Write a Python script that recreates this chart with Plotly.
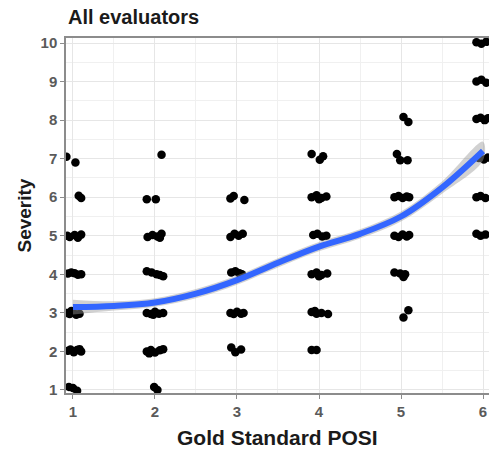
import plotly.graph_objects as go

pts_x = [
    0.92, 1.03, 1.07, 1.10,
    0.93, 0.96, 1.02, 1.06, 1.10,
    0.94, 0.98, 1.02, 1.06, 1.10,
    0.93, 0.96, 1.00, 1.04, 1.08, 0.98,
    0.94, 0.97, 1.01, 1.05, 1.10, 1.08,
    0.95, 1.00, 1.05,
    2.08, 1.90, 2.01,
    1.91, 1.97, 2.03, 2.08, 2.06,
    1.90, 1.96, 2.02, 2.10, 2.06,
    1.90, 1.95, 2.00, 2.05, 2.10, 1.98,
    1.90, 1.95, 2.00, 2.06, 2.10, 1.93,
    1.99, 2.03,
    2.92, 2.96, 3.09,
    2.92, 2.97, 3.02, 3.07,
    2.93, 2.98, 3.03, 3.06,
    2.92, 2.96, 3.00, 3.05, 3.08,
    2.93, 2.98, 3.05,
    3.91, 4.01, 4.05,
    3.91, 3.97, 4.03, 4.09, 4.00,
    3.93, 3.98, 4.04, 4.09,
    3.91, 3.97, 4.03, 4.10, 4.00,
    3.91, 3.97, 4.03, 4.11, 3.95,
    3.91, 3.97,
    5.03, 5.09,
    4.95, 4.99, 5.08,
    4.92, 4.97, 5.02, 5.07, 5.10,
    4.92, 4.97, 5.02, 5.07, 5.10,
    4.92, 4.99, 5.05, 5.03,
    5.03, 5.09,
    5.92, 5.98, 6.04,
    5.92, 5.98, 6.04,
    5.92, 5.97, 6.02, 6.06,
    5.95, 6.01, 6.06,
    5.92, 5.97, 6.03,
    5.92, 5.97, 6.03,
]
pts_y = [
    7.05, 6.90, 6.04, 5.98,
    5.00, 4.97, 5.02, 4.95, 5.03,
    4.02, 4.05, 4.03, 3.99, 4.00,
    3.00, 2.97, 3.02, 2.95, 2.98, 3.05,
    2.02, 2.05, 1.98, 2.04, 2.00, 2.06,
    1.08, 1.05, 0.98,
    7.10, 5.95, 5.95,
    4.97, 5.02, 4.98, 5.05, 4.95,
    4.08, 4.05, 4.00, 3.95, 3.98,
    3.00, 2.97, 3.03, 2.98, 3.00, 2.95,
    2.00, 2.04, 1.97, 2.03, 2.06, 1.95,
    1.08, 1.00,
    5.97, 6.03, 5.93,
    4.97, 5.05, 5.00, 5.05,
    4.05, 4.08, 4.03, 4.00,
    3.00, 2.97, 3.03, 2.98, 3.00,
    2.10, 1.98, 2.05,
    7.12, 6.97, 7.06,
    6.00, 6.05, 5.98, 6.02, 5.95,
    5.02, 5.05, 4.98, 5.00,
    4.00, 4.05, 3.98, 4.02, 3.95,
    3.02, 2.98, 3.00, 2.97, 3.05,
    2.04, 2.04,
    8.08, 7.95,
    7.12, 6.96, 6.96,
    6.00, 6.03, 5.98, 6.02, 6.00,
    5.00, 4.97, 5.03, 4.98, 5.02,
    4.05, 4.02, 4.00, 3.93,
    2.88, 3.07,
    10.02, 9.98, 10.03,
    9.00, 9.05, 8.97,
    8.03, 8.06, 8.00, 8.05,
    7.02, 6.98, 7.03,
    6.00, 6.03, 5.98,
    5.05, 5.00, 5.03,
]

# Smoothed trend and its confidence band
fit_x = [1.0, 1.5, 2.0, 2.5, 3.0, 3.5, 4.0, 4.5, 5.0, 5.5, 6.0]
fit_y = [3.15, 3.18, 3.27, 3.50, 3.85, 4.30, 4.72, 5.05, 5.50, 6.25, 7.20]
fit_lo = [2.96, 3.06, 3.16, 3.38, 3.73, 4.18, 4.60, 4.93, 5.37, 6.09, 6.96]
fit_hi = [3.34, 3.30, 3.38, 3.62, 3.97, 4.42, 4.84, 5.17, 5.63, 6.41, 7.44]

x_ticks = [1, 2, 3, 4, 5, 6]
y_ticks = [1, 2, 3, 4, 5, 6, 7, 8, 9, 10]

fig = go.Figure()
fig.add_trace(go.Scatter(
    x=pts_x, y=pts_y, mode="markers",
    marker=dict(color="black", size=8.5, line=dict(width=0)),
    hoverinfo="skip", showlegend=False))
fig.add_trace(go.Scatter(
    x=fit_x + fit_x[::-1], y=fit_hi + fit_lo[::-1],
    fill="toself", fillcolor="rgba(153,153,153,0.45)",
    line=dict(width=0), mode="lines", line_shape="spline",
    hoverinfo="skip", showlegend=False))
fig.add_trace(go.Scatter(
    x=fit_x, y=fit_y, mode="lines", line_shape="spline",
    line=dict(color="#3366FF", width=6),
    hoverinfo="skip", showlegend=False))

axis_common = dict(
    showgrid=True, gridcolor="#e6e6e6", gridwidth=1.2,
    showline=True, linecolor="#8c8c8c", linewidth=1.5,
    ticks="outside", ticklen=4, tickcolor="#8c8c8c", tickwidth=1.2,
    tickfont=dict(family="Liberation Sans, Arial", size=15, color="#5a5a5a", weight="bold"),
    zeroline=False,
    minor=dict(showgrid=True, gridcolor="#f0f0f0", gridwidth=0.8, dtick=0.5),
)

fig.update_layout(
    width=489, height=456,
    margin=dict(l=66, r=0, t=38, b=63),
    paper_bgcolor="white", plot_bgcolor="white",
    font=dict(family="Liberation Sans, Arial", color="black"),
    xaxis=dict(range=[0.915, 6.073], tickvals=x_ticks, mirror=True, **axis_common),
    yaxis=dict(range=[0.922, 10.13], tickvals=y_ticks, **axis_common),
    annotations=[
        dict(text="<b>All evaluators</b>", x=0, y=1 + (38 - 17) / 355.0,
             xref="paper", yref="paper",
             showarrow=False, xanchor="left", yanchor="middle",
             font=dict(size=20, color="#1a1a1a")),
        dict(text="<b>Gold Standard POSI</b>", x=0.5, xref="paper",
             y=-(437 - 393) / 355.0, yref="paper",
             showarrow=False, xanchor="center", yanchor="middle",
             font=dict(size=21, color="#1a1a1a")),
        dict(text="<b>Severity</b>", x=-(66 - 24) / 423.0, xref="paper", y=0.5, yref="paper",
             showarrow=False, textangle=-90, xanchor="center", yanchor="middle",
             font=dict(size=19, color="#1a1a1a")),
    ],
)

fig.write_html("out.html")
